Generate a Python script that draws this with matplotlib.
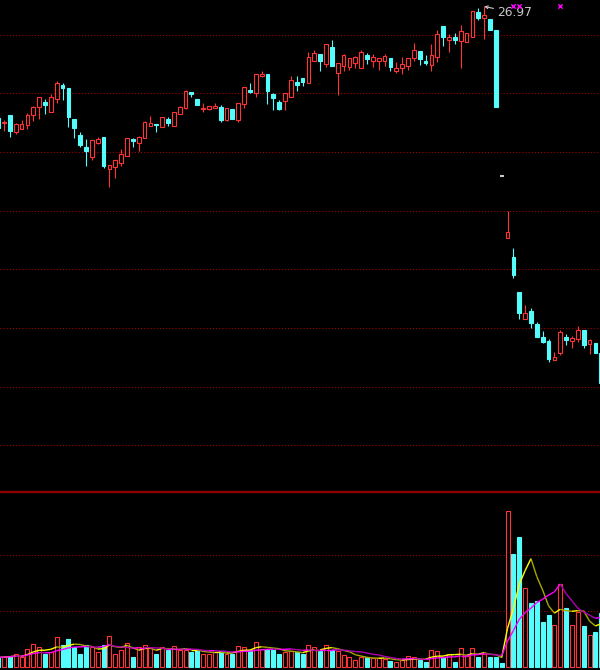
import numpy as np
import pandas as pd
import matplotlib
matplotlib.use("Agg")
import matplotlib.pyplot as plt
from matplotlib.collections import LineCollection
from matplotlib.lines import Line2D

# ---------------- data ----------------
opens = [23.17, 22.99, 23.26, 22.67, 22.79, 22.94, 23.27, 23.53, 23.71, 23.38,
         23.82, 24.30, 24.19, 23.13, 22.60, 22.17, 21.83, 22.31, 22.51, 21.42,
         21.49, 21.64, 21.88, 22.45, 22.30, 22.47, 22.90, 22.96, 22.87, 23.13,
         22.89, 23.29, 23.49, 24.06, 23.81, 23.46, 23.46, 23.51, 23.55, 23.08,
         23.47, 23.10, 23.64, 24.12, 24.03, 24.58, 24.66, 23.98, 23.71, 23.75,
         23.89, 24.40, 24.52, 24.37, 25.12, 25.35, 25.00, 25.60, 24.69, 24.94,
         24.92, 25.03, 24.88, 25.31, 25.12, 25.11, 25.11, 25.21, 24.77, 24.86,
         24.94, 25.21, 25.45, 25.11, 24.98, 25.23, 26.31, 25.83, 25.94, 25.80,
         25.77, 25.92, 26.78, 26.59, 26.55, 26.17, 21.20, 19.08, 18.43, 17.22,
         16.32, 16.58, 16.14, 15.69, 15.55, 14.90, 15.14, 15.70, 15.55, 15.61,
         15.93, 15.46, 15.49, 15.16]
highs = [23.20, 23.10, 23.26, 22.98, 23.09, 23.35, 23.56, 23.88, 23.82, 23.99,
         24.43, 24.37, 24.20, 23.14, 22.70, 22.45, 22.42, 22.51, 22.51, 21.57,
         21.74, 22.10, 22.48, 22.49, 22.55, 23.07, 23.24, 22.97, 23.20, 23.21,
         23.37, 23.56, 24.11, 24.06, 23.81, 23.69, 23.58, 23.67, 23.61, 23.50,
         23.48, 23.69, 24.22, 24.37, 24.66, 24.77, 24.66, 24.03, 23.78, 24.01,
         24.58, 24.61, 24.53, 25.41, 25.49, 25.36, 25.69, 25.83, 25.04, 25.35,
         25.21, 25.27, 25.49, 25.38, 25.34, 25.21, 25.35, 25.21, 25.07, 25.26,
         25.21, 25.72, 25.46, 25.32, 25.68, 26.17, 26.31, 26.03, 26.06, 26.34,
         26.06, 26.82, 26.91, 26.97, 26.55, 26.17, 21.20, 20.00, 18.72, 17.22,
         16.79, 16.69, 16.19, 15.89, 15.62, 15.17, 15.92, 15.80, 15.74, 16.07,
         15.94, 15.62, 15.49, 15.16]
lows = [22.75, 22.72, 22.51, 22.63, 22.79, 22.79, 23.07, 23.13, 23.29, 23.38,
        23.69, 23.78, 22.87, 22.47, 22.17, 21.53, 21.73, 22.27, 21.45, 20.80,
        21.11, 21.51, 21.87, 22.19, 22.02, 22.47, 22.90, 22.70, 22.86, 22.89,
        22.89, 23.29, 23.48, 23.89, 23.60, 23.38, 23.42, 23.50, 23.01, 23.07,
        23.12, 23.04, 23.52, 24.01, 23.89, 24.57, 23.64, 23.42, 23.42, 23.44,
        23.89, 24.09, 24.24, 24.37, 25.12, 24.78, 24.92, 24.94, 23.95, 24.78,
        24.81, 24.86, 24.88, 25.00, 24.92, 24.81, 24.95, 24.77, 24.69, 24.67,
        24.81, 25.11, 24.98, 24.98, 24.75, 25.09, 25.62, 25.43, 25.68, 24.88,
        25.77, 25.92, 26.51, 25.86, 26.17, 23.55, 21.20, 19.06, 17.70, 16.30,
        16.31, 15.99, 15.70, 15.50, 14.83, 14.89, 15.06, 15.42, 15.33, 15.53,
        15.33, 15.11, 15.13, 14.10]
closes = [22.83, 23.04, 22.72, 22.96, 22.96, 23.25, 23.55, 23.87, 23.59, 23.87,
          24.37, 24.18, 23.19, 22.82, 22.24, 22.05, 22.42, 22.44, 21.51, 21.56,
          21.73, 21.94, 22.47, 22.39, 22.51, 23.01, 23.00, 22.92, 23.19, 22.99,
          23.36, 23.55, 24.10, 23.98, 23.61, 23.51, 23.58, 23.57, 23.10, 23.50,
          23.12, 23.69, 24.22, 24.04, 24.66, 24.68, 24.10, 23.86, 23.47, 24.01,
          24.46, 24.29, 24.40, 25.23, 25.38, 25.12, 25.68, 24.94, 25.03, 25.32,
          25.21, 25.26, 25.43, 25.19, 25.24, 25.21, 25.28, 24.92, 24.88, 25.00,
          25.21, 25.49, 25.17, 25.03, 25.32, 26.02, 25.94, 25.94, 25.83, 26.14,
          26.06, 26.82, 26.59, 26.68, 26.17, 23.55, 21.20, 19.27, 17.79, 16.52,
          16.50, 16.17, 15.70, 15.53, 14.94, 15.02, 15.85, 15.58, 15.65, 15.94,
          15.42, 15.58, 15.14, 14.13]
volumes = [1.7, 1.8, 2.0, 2.3, 1.8, 3.2, 4.1, 3.5, 2.4, 2.6,
           5.3, 3.9, 5.0, 3.6, 2.3, 3.9, 3.6, 2.6, 3.9, 5.6,
           2.4, 3.0, 4.3, 1.8, 3.5, 3.9, 3.3, 2.4, 3.5, 3.0,
           3.7, 3.0, 3.0, 2.6, 3.0, 2.3, 2.4, 2.6, 2.9, 2.3,
           2.4, 3.75, 3.6, 3.0, 4.5, 3.2, 3.2, 3.0, 2.4, 2.6,
           2.9, 2.6, 2.3, 3.9, 3.6, 2.9, 3.9, 3.0, 2.9, 2.1,
           1.7, 1.25, 1.8, 1.7, 1.55, 1.55, 1.4, 1.1, 0.9, 1.25,
           2.0, 1.7, 1.25, 0.8, 3.0, 2.9, 1.8, 2.4, 0.95, 3.3,
           2.0, 3.3, 1.8, 2.4, 1.8, 1.8, 0.65, 27.9, 20.1, 23.3,
           14.05, 11.4, 11.8, 8.1, 9.3, 7.5, 14.8, 10.6, 7.5, 9.9,
           7.3, 5.7, 6.2, 9.6]
price_grid = [12, 14, 16, 18, 20, 22, 24, 26]
volume_grid = [10, 20]
signal_days = [88, 89, 96]
max_label = "26.97"

# ---------------- style ----------------
RED = "#ff3434"
CYAN = "#54fcfc"
FLAT = "#c8c8c8"
GRID = "#a80000"
SEP = "#8c0000"
YEL_UP, YEL_DN = "#ffff00", "#a8a800"
MAG_UP, MAG_DN = "#ff00ff", "#b000b0"

W, H = 600, 670
fig = plt.figure(figsize=(W / 100, H / 100), dpi=100, facecolor="black")
split = 178 / H
ax = fig.add_axes([0, split, 1, 1 - split])
axv = fig.add_axes([0, 0, 1, split])
for a in (ax, axv):
    a.set_facecolor("black")
    a.set_axis_off()
    a.set_xlim(0.316, 102.79)
ax.set_ylim(10.40, 27.19)
axv.set_ylim(-0.54, 31.25)

o = np.array(opens); h = np.array(highs); l = np.array(lows); c = np.array(closes)
v = np.array(volumes)
x = np.arange(len(o))
up = c > o
dn = c < o
fl = c == o

lw = 0.8
bw = 0.64
vbw = 0.68

for g in price_grid:
    ax.axhline(g, color=GRID, lw=0.75, ls=(0, (1, 2)), zorder=0)
for g in volume_grid:
    axv.axhline(g, color=GRID, lw=0.75, ls=(0, (1, 2)), zorder=0)

# up candles: hollow red
top_u = np.maximum(o, c)[up]; bot_u = np.minimum(o, c)[up]
ax.vlines(x[up], top_u, h[up], color=RED, lw=lw, zorder=2)
ax.vlines(x[up], l[up], bot_u, color=RED, lw=lw, zorder=2)
ax.bar(x[up], (c - o)[up], bottom=o[up], width=bw, facecolor="black",
       edgecolor=RED, lw=lw, zorder=3)
# down candles: filled cyan
ax.vlines(x[dn], l[dn], h[dn], color=CYAN, lw=lw, zorder=2)
ax.bar(x[dn], (o - c)[dn], bottom=c[dn], width=bw, color=CYAN,
       edgecolor=CYAN, lw=lw, zorder=3)
# flat candles
ax.vlines(x[fl], l[fl], h[fl], color=FLAT, lw=lw, zorder=2)
ax.hlines(c[fl], x[fl] - 0.35, x[fl] + 0.35, color=FLAT, lw=1.5, zorder=3)

# max annotation
imax = int(np.argmax(h))
ax.annotate(max_label, xy=(imax, h[imax]), xytext=(imax + 2.3, h[imax] - 0.22),
            color="#c8c8c8", fontsize=8.8, ha="left", va="center",
            arrowprops=dict(arrowstyle="->", color="#c8c8c8", lw=0.8,
                            shrinkA=1, shrinkB=0, mutation_scale=5))

# signal markers
ax.scatter(signal_days, [26.99] * len(signal_days), marker="x", s=10,
           color="#ff00ff", lw=1, zorder=4)

# volume bars
vup = c > o
axv.bar(x[vup], v[vup], width=vbw, facecolor="black", edgecolor=RED, lw=lw, zorder=2)
axv.bar(x[~vup], v[~vup], width=vbw, color=CYAN, edgecolor=CYAN, lw=lw, zorder=2)

# volume moving averages
vs = pd.Series(volumes)
for n, cu, cd in ((5, YEL_UP, YEL_DN), (10, MAG_UP, MAG_DN)):
    ma = vs.rolling(n, min_periods=1).mean().to_numpy()
    pts = np.column_stack([x, ma])
    segs = np.stack([pts[:-1], pts[1:]], axis=1)
    cols = [cu if ma[i + 1] >= ma[i] else cd for i in range(len(ma) - 1)]
    axv.add_collection(LineCollection(segs, colors=cols, linewidths=1.0, zorder=3))

# separator
fig.add_artist(Line2D([0, 1], [split, split], transform=fig.transFigure,
                      color=SEP, lw=1.7))

fig.savefig("out.png", dpi=100, facecolor="black")
